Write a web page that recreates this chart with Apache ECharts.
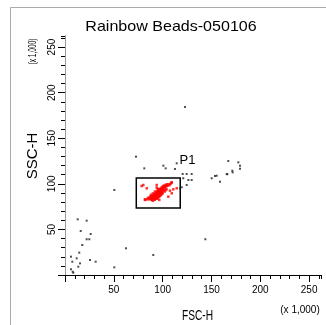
<!DOCTYPE html>
<html>
<head>
<meta charset="utf-8">
<script src="https://cdn.jsdelivr.net/npm/echarts@6/dist/echarts.min.js"></script>
<style>
  html, body { margin: 0; padding: 0; background: #fff; }
  #chart { width: 326px; height: 325px; }
</style>
</head>
<body>
<div id="chart"></div>
<script>
// FSC-H / SSC-H dot plot, values in thousands
const axisMax = 262.144;
const majorStep = 50;
const minorStep = 10;

// events outside the P1 gate [FSC-H, SSC-H]
const eventsOther = [
  [13.0, 61.1], [22.2, 59.6], [16.1, 48.3], [26.3, 45.0], [22.2, 39.2], [24.9, 39.2],
  [17.7, 32.9], [14.6, 24.5], [6.1, 20.1], [12.0, 18.3], [7.5, 14.6], [15.4, 12.8],
  [25.6, 16.5], [31.4, 14.6], [13.6, 9.1], [6.1, 6.3], [7.9, 3.6], [8.5, 2.5],
  [50.5, 8.4], [62.5, 29.3], [90.4, 21.9], [143.7, 39.2],
  [122.9, 184.3], [72.7, 129.8], [81.2, 117.0], [100.7, 119.9], [103.1, 117.0],
  [112.6, 116.3], [114.4, 122.5], [50.5, 93.2],
  [120.5, 110.8], [124.6, 110.8], [129.7, 110.8], [121.1, 106.1], [126.3, 104.2],
  [129.7, 104.2], [124.6, 98.7], [119.5, 96.2], [117.8, 95.1],
  [150.2, 106.1], [153.6, 108.6], [158.7, 102.3], [165.6, 110.8], [171.3, 114.4],
  [171.7, 112.6], [167.2, 125.0], [177.5, 123.6], [179.2, 119.9], [179.2, 116.6],
  [166.2, 110.5], [155.3, 108.9]
];

// events inside the P1 gate
const eventsP1 = [
  [84, 83], [85, 84.5], [86, 83], [86.5, 85], [87, 84], [87.5, 86], [88, 85], [88, 83.5],
  [89, 86.5], [89.5, 85], [90, 87], [90, 84.5], [90.5, 86], [91, 88], [91, 85.5], [91.5, 87],
  [92, 89], [92, 86], [92.5, 88], [93, 87], [93, 90], [93.5, 88.5], [94, 89.5], [94, 87.5],
  [94.5, 91], [95, 90], [95, 88], [95.5, 91.5], [96, 90.5], [96, 92.5], [96.5, 89], [97, 92],
  [97, 94], [97.5, 91], [98, 93], [98, 95], [98.5, 92], [99, 94], [99, 96], [99.5, 93],
  [100, 95], [100, 97], [100.5, 94], [101, 96], [101, 98], [102, 95], [102, 97.5], [103, 96.5],
  [103, 99], [104, 97.5], [104.5, 99.5], [105, 98], [106, 99.5], [107, 98.5], [108, 100], [109, 101],
  [93, 85.5], [95, 86.5], [97, 89.5], [92, 84], [89, 82.5], [96, 88], [98, 90.5], [94, 92], [96, 94],
  [92, 82.5], [94, 84], [96, 85.5], [98, 87.5], [100, 89.5], [102, 91.5], [104, 94], [90, 81.5],
  [95, 84.2], [99, 88.5], [101, 92.5], [103, 93], [97, 86.5], [88, 88], [90, 89.5], [92, 91.5],
  [95, 94.5], [91, 83.2], [93.5, 83.6], [99.5, 90.5],
  [78.5, 97.6], [81.9, 83], [105.8, 85.9], [109.3, 89.6], [110.9, 94], [114.4, 95.1],
  [92.2, 87.7], [83.7, 95.1], [93.9, 98.7], [102.4, 97.6], [107.5, 92.5], [88.8, 82.3],
  [96.6, 82.3], [93.9, 95.8], [109.3, 101.7], [81.9, 82.3], [80.2, 98.7]
];

// P1 gate bounds
const gateP1X = [73, 118];
const gateP1Y = [73.5, 106.4];
const gateName = 'P1';

const titleText = 'Rainbow Beads-050106';
const xName = 'FSC-H';
const yName = 'SSC-H';
const scaleNote = '(x 1,000)';

const FONT = 'Liberation Sans, Arial, sans-serif';
const chart = echarts.init(document.getElementById('chart'));

function majorLabel(v) {
  return (v > 0 && v % majorStep === 0) ? String(v) : '';
}

const hidden = { show: false };

chart.setOption({
  animation: false,
  backgroundColor: '#fff',
  grid: { left: 65, top: 36, right: 5, bottom: 50, containLabel: false },
  xAxis: [
    { // minor ticks
      type: 'value', position: 'bottom', min: 0, max: axisMax, interval: minorStep,
      axisLine: { show: true, lineStyle: { color: '#000', width: 1 } },
      axisTick: { show: true, length: 4, lineStyle: { color: '#000' } },
      axisLabel: hidden, splitLine: hidden
    },
    { // major ticks and labels
      type: 'value', position: 'bottom', min: 0, max: axisMax, interval: majorStep,
      axisLine: hidden,
      axisTick: { show: true, length: 7, lineStyle: { color: '#000' } },
      axisLabel: { show: true, margin: 10, fontSize: 10, color: '#000', fontFamily: FONT,
                   formatter: majorLabel, showMaxLabel: false },
      splitLine: hidden
    },
    { // frame top
      type: 'value', position: 'top', min: 0, max: axisMax,
      axisLine: { show: true, lineStyle: { color: '#000', width: 1 } },
      axisTick: hidden, axisLabel: hidden, splitLine: hidden
    }
  ],
  yAxis: [
    {
      type: 'value', position: 'left', min: 0, max: axisMax, interval: minorStep,
      axisLine: { show: true, lineStyle: { color: '#000', width: 1 } },
      axisTick: { show: true, length: 4, lineStyle: { color: '#000' } },
      axisLabel: hidden, splitLine: hidden
    },
    {
      type: 'value', position: 'left', min: 0, max: axisMax, interval: majorStep,
      axisLine: hidden,
      axisTick: { show: true, length: 7, lineStyle: { color: '#000' } },
      axisLabel: { show: true, margin: 8, fontSize: 10, color: '#000', fontFamily: FONT,
                   rotate: 90, formatter: majorLabel, showMaxLabel: false },
      splitLine: hidden
    },
    { // frame right
      type: 'value', position: 'right', min: 0, max: axisMax,
      axisLine: { show: true, lineStyle: { color: '#999', width: 1 } },
      axisTick: hidden, axisLabel: hidden, splitLine: hidden
    }
  ],
  series: [
    {
      type: 'scatter', name: 'other', xAxisIndex: 0, yAxisIndex: 0,
      data: eventsOther, symbol: 'rect', symbolSize: 2,
      itemStyle: { color: '#222' }, silent: true
    },
    {
      type: 'scatter', name: gateName, xAxisIndex: 0, yAxisIndex: 0,
      data: eventsP1, symbol: 'rect', symbolSize: 2.5,
      itemStyle: { color: '#ff0000' }, silent: true,
      markArea: {
        silent: true,
        itemStyle: { color: 'rgba(0,0,0,0)', borderColor: '#000', borderWidth: 1.5 },
        label: { show: true, position: [44, -23], fontSize: 13, color: '#000', fontFamily: FONT },
        data: [[
          { name: gateName, xAxis: gateP1X[0], yAxis: gateP1Y[1] },
          { xAxis: gateP1X[1], yAxis: gateP1Y[0] }
        ]]
      }
    }
  ],
  graphic: [
    { type: 'rect', silent: true, shape: { x: 10.5, y: 7.5, width: 340, height: 340 },
      style: { fill: 'none', stroke: '#aaa', lineWidth: 1 } },
    { type: 'text', silent: true, x: 171, y: 27, scaleX: 1.07,
      style: { text: titleText, x: 0, y: 0, textAlign: 'center', textVerticalAlign: 'middle',
               font: '15px ' + FONT, fill: '#000' } },
    { type: 'text', silent: true, x: 197.5, y: 315.5, scaleX: 0.68,
      style: { text: xName, x: 0, y: 0, textAlign: 'center', textVerticalAlign: 'middle',
               font: '15px ' + FONT, fill: '#000' } },
    { type: 'text', silent: true, x: 300, y: 310,
      style: { text: scaleNote, x: 0, y: 0, textAlign: 'center', textVerticalAlign: 'middle',
               font: '10px ' + FONT, fill: '#000' } },
    { type: 'text', silent: true, x: 32.5, y: 156, rotation: Math.PI / 2,
      style: { text: yName, x: 0, y: 0, textAlign: 'center', textVerticalAlign: 'middle',
               font: '15px ' + FONT, fill: '#000' } },
    { type: 'text', silent: true, x: 32.5, y: 51.5, rotation: Math.PI / 2, scaleX: 0.6,
      style: { text: scaleNote, x: 0, y: 0, textAlign: 'center', textVerticalAlign: 'middle',
               font: '11px ' + FONT, fill: '#000' } }
  ]
});
</script>
</body>
</html>
